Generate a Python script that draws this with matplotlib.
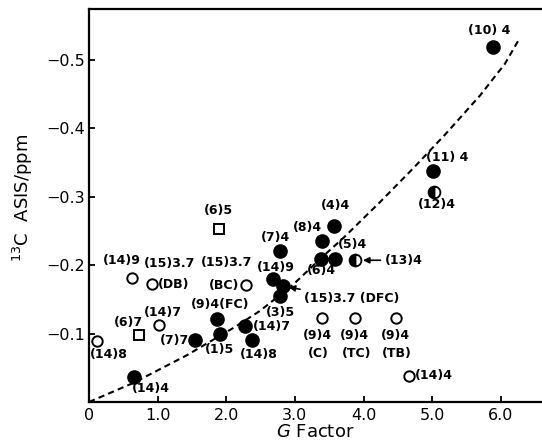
import matplotlib
matplotlib.use("Agg")
import matplotlib.pyplot as plt

# values (G factor vs 13C ASIS / ppm)
filled_g = [0.65, 1.545, 1.91, 1.87, 2.28, 2.38, 2.68, 2.83, 2.79, 2.79, 3.38, 3.40, 3.57, 3.59, 5.01, 5.88]
filled_asis = [-0.037, -0.091, -0.099, -0.121, -0.111, -0.090, -0.179, -0.169, -0.155, -0.221, -0.209, -0.235, -0.257, -0.209, -0.338, -0.519]
filled_labels = ["(14)4", "(7)7", "(1)5", "(9)4(FC)", "(14)7", "(14)8", "(14)9", "(15)3.7 (DFC)",
                 "(3)5", "(7)4", "(6)4", "(8)4", "(4)4", "(5)4", "(11) 4", "(10) 4"]

half_g = [5.02, 3.87]
half_asis = [-0.307, -0.207]
half_labels = ["(12)4", "(13)4"]

open_g = [0.12, 0.63, 0.92, 1.02, 2.29, 3.39, 3.87, 4.48, 4.66]
open_asis = [-0.089, -0.181, -0.173, -0.112, -0.171, -0.123, -0.123, -0.123, -0.038]
open_labels = ["(14)8", "(14)9", "(15)3.7\n(DB)", "(14)7", "(15)3.7\n(BC)",
               "(9)4\n(C)", "(9)4\n(TC)", "(9)4\n(TB)", "(14)4"]

square_g = [1.89, 0.73]
square_asis = [-0.253, -0.098]
square_labels = ["(6)5", "(6)7"]

# dashed trend curve
curve_g = [0, 0.65, 1.42, 2.10, 2.49, 2.98, 3.40, 3.71, 4.24, 4.73, 5.21, 5.70, 6.06, 6.25]
curve_asis = [0, -0.028, -0.068, -0.108, -0.133, -0.172, -0.212, -0.240, -0.292, -0.342, -0.393, -0.448, -0.494, -0.527]

xticks = [0, 1, 2, 3, 4, 5, 6]
xticklabels = ["0", "1.0", "2.0", "3.0", "4.0", "5.0", "6.0"]
yticks = [-0.1, -0.2, -0.3, -0.4, -0.5]
yticklabels = ["\u22120.1", "\u22120.2", "\u22120.3", "\u22120.4", "\u22120.5"]

# label placement, pixel offsets from the marker (x right, y up), one entry per text line
filled_pos = [[(17, -12, "center")], [(-6, -1, "right")], [(-1, -15, "center")], [(3, 15, "center")],
              [(7, 0, "left")], [(6, -14, "center")], [(3, 12, "center")], None,
              [(0, -17, "center")], [(-5, 13, "center")], [(0, -12, "center")], [(-15, 14, "center")],
              [(1, 21, "center")], [(17, 14, "center")], [(14, 13, "center")], [(-3, 16, "center")]]
half_pos = [[(3, -13, "center")], None]
open_pos = [[(12, -13, "center")], [(-10, 18, "center")], [(17, 20, "center"), (21, -1, "center")],
            [(4, 13, "center")], [(-20, 22, "center"), (-22, -1, "center")],
            [(-4, -18, "center"), (-3, -36, "center")], [(0, -18, "center"), (2, -36, "center")],
            [(-1, -18, "center"), (0, -36, "center")], [(6, 0, "left")]]
square_pos = [[(0, 18, "center")], [(-11, 12, "center")]]

plt.rcParams["font.family"] = "DejaVu Sans"
fig = plt.figure(figsize=(5.42, 4.46), dpi=100)
ax = fig.add_axes([89 / 542, 1 - 402 / 446, 453 / 542, 393 / 446])

ax.plot(curve_g, curve_asis, color="black", lw=1.5, dashes=(3.0, 2.0), zorder=1)
ax.plot(filled_g, filled_asis, "o", color="black", ms=9.5, zorder=3, ls="none")
ax.plot(half_g, half_asis, "o", color="black", mfc="black", mfcalt="white", fillstyle="left",
        ms=8.5, mew=1.3, ls="none", zorder=3)
ax.plot(open_g, open_asis, "o", mfc="white", mec="black", ms=7.5, mew=1.4, ls="none", zorder=3)
ax.plot(square_g, square_asis, "s", mfc="white", mec="black", ms=7.5, mew=1.4, ls="none", zorder=3)

lab_fs = 9
lab_fw = "bold"


def put_labels(xs, ys, labels, positions):
    for x, y, lab, pos in zip(xs, ys, labels, positions):
        if pos is None:
            continue
        for line, (dx, dy, ha) in zip(lab.split("\n"), pos):
            ax.annotate(line, (x, y), xytext=(dx, dy), textcoords="offset pixels",
                        ha=ha, va="center", fontsize=lab_fs, fontweight=lab_fw)


put_labels(filled_g, filled_asis, filled_labels, filled_pos)
put_labels(half_g, half_asis, half_labels, half_pos)
put_labels(open_g, open_asis, open_labels, open_pos)
put_labels(square_g, square_asis, square_labels, square_pos)

# the two labels with arrows
ax.annotate(filled_labels[7], (filled_g[7], filled_asis[7]), xytext=(21, -12),
            textcoords="offset pixels", ha="left", va="center", fontsize=lab_fs, fontweight=lab_fw,
            arrowprops=dict(arrowstyle="-|>", color="black", lw=1.2, shrinkA=1, shrinkB=4,
                            mutation_scale=9))
ax.annotate(half_labels[1], (half_g[1], half_asis[1]), xytext=(30, 0),
            textcoords="offset pixels", ha="left", va="center", fontsize=lab_fs, fontweight=lab_fw,
            arrowprops=dict(arrowstyle="-|>", color="black", lw=1.2, shrinkA=1, shrinkB=6,
                            mutation_scale=9))

ax.set_xlim(0, 6.6)
ax.set_ylim(0, -0.574)
ax.set_xticks(xticks)
ax.set_xticklabels(xticklabels)
ax.set_yticks(yticks)
ax.set_yticklabels(yticklabels)
ax.tick_params(direction="in", length=4, width=1.3, labelsize=11.5, pad=4)
ax.tick_params(axis="y", pad=3)
ax.spines["right"].set_visible(False)
for s in ["left", "bottom", "top"]:
    ax.spines[s].set_linewidth(1.6)

ax.set_xlabel("$G$ Factor", fontsize=13, labelpad=0)
ax.set_ylabel("$^{13}$C  ASIS/ppm", fontsize=13)
ax.yaxis.set_label_coords(-0.12, 0.52)

fig.savefig("out.png", dpi=100)
